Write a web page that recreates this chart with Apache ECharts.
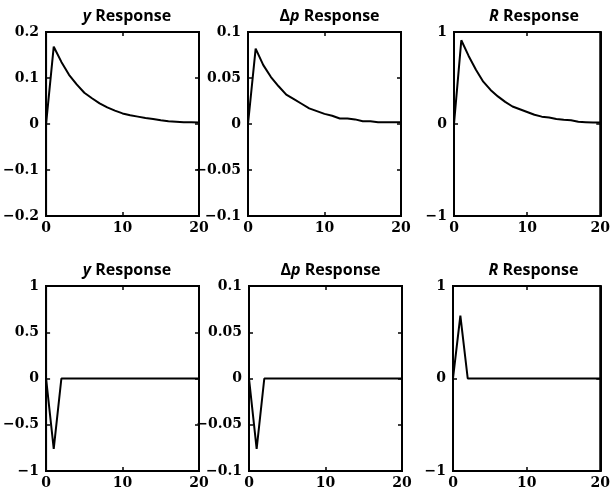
<!DOCTYPE html>
<html><head><meta charset="utf-8">
<script src="https://cdn.jsdelivr.net/npm/echarts@6/dist/echarts.min.js"></script>
<style>html,body{margin:0;padding:0;background:#fff}#c{width:613px;height:498px}</style>
</head><body><div id="c"></div>
<script>
const periods = [0,1,2,3,4,5,6,7,8,9,10,11,12,13,14,15,16,17,18,19,20];
const titles = ['{i|y} Response','{n|Δ}{i|p} Response','{i|R} Response','{i|y} Response','{n|Δ}{i|p} Response','{i|R} Response'];
const yResp1  = [0,0.168,0.135,0.107,0.086,0.068,0.056,0.045,0.036,0.029,0.023,0.019,0.016,0.013,0.011,0.008,0.006,0.005,0.004,0.004,0.003];
const dpResp1 = [0,0.082,0.064,0.051,0.041,0.032,0.027,0.022,0.017,0.014,0.011,0.009,0.006,0.006,0.005,0.003,0.003,0.002,0.002,0.002,0.002];
const rResp1  = [0,0.91,0.74,0.59,0.46,0.37,0.30,0.24,0.19,0.16,0.13,0.10,0.08,0.07,0.055,0.045,0.04,0.025,0.02,0.015,0.015];
const yResp2  = [0,-0.76,0,0,0,0,0,0,0,0,0,0,0,0,0,0,0,0,0,0,0];
const dpResp2 = [0,-0.076,0,0,0,0,0,0,0,0,0,0,0,0,0,0,0,0,0,0,0];
const rResp2  = [0,0.68,0,0,0,0,0,0,0,0,0,0,0,0,0,0,0,0,0,0,0];
const yLimits = [[-0.2,0.2,0.1],[-0.1,0.1,0.05],[-1,1,1],[-1,1,0.5],[-0.1,0.1,0.05],[-1,1,1]];
const xTicks = [0,10,20];
const seriesData = [yResp1,dpResp1,rResp1,yResp2,dpResp2,rResp2];

const gridPos = [
  {left:45,width:154,top:32,height:184},
  {left:248,width:153,top:32,height:184},
  {left:454,width:150,top:32,height:184},
  {left:45,width:154,top:286,height:185},
  {left:249,width:153,top:286,height:185},
  {left:453,width:151,top:286,height:185}
];
const lblFont = {fontFamily:'DejaVu Serif',fontWeight:'bold',fontSize:14,color:'#000'};
const fmt = v => { let s = String(+v.toFixed(3)); return s.replace('-','\u2212'); };
const option = {animation:false,backgroundColor:'#fff',grid:[],xAxis:[],yAxis:[],series:[],title:[]};
gridPos.forEach((g,i)=>{
  option.grid.push(Object.assign({show:true,borderColor:'#000',borderWidth:2,backgroundColor:'transparent'},g));
  const tick = {show:true,inside:true,length:4,lineStyle:{color:'#000',width:1.5}};
  const line = {show:true,onZero:false,lineStyle:{color:'#000',width:2}};
  option.xAxis.push({type:'value',gridIndex:i,min:xTicks[0],max:xTicks[2],interval:xTicks[1]-xTicks[0],
    axisLine:line,axisTick:tick,splitLine:{show:false},
    axisLabel:Object.assign({margin:5,formatter:fmt},lblFont)});
  option.xAxis.push({type:'value',gridIndex:i,position:'top',min:xTicks[0],max:xTicks[2],interval:xTicks[1]-xTicks[0],
    axisLine:line,axisTick:tick,splitLine:{show:false},axisLabel:{show:false}});
  const [mn,mx,iv] = yLimits[i];
  option.yAxis.push({type:'value',gridIndex:i,min:mn,max:mx,interval:iv,
    axisLine:line,axisTick:tick,splitLine:{show:false},
    axisLabel:Object.assign({margin:7,formatter:fmt},lblFont)});
  option.yAxis.push({type:'value',gridIndex:i,position:'right',min:mn,max:mx,interval:iv,
    axisLine:line,axisTick:tick,splitLine:{show:false},axisLabel:{show:false}});
  option.series.push({type:'line',xAxisIndex:2*i,yAxisIndex:2*i,symbol:'none',
    lineStyle:{color:'#000',width:2},data:periods.map((p,k)=>[p,seriesData[i][k]])});
  option.title.push({text:titles[i],left:g.left+g.width/2,textAlign:'center',top:g.top-29,
    textStyle:{fontFamily:'Open Sans',fontWeight:'bold',fontSize:16,color:'#000',
      rich:{i:{fontFamily:'Open Sans',fontStyle:'italic',fontWeight:'bold',fontSize:16,color:'#000'},
            n:{fontFamily:'Open Sans',fontWeight:'bold',fontSize:16,color:'#000'}}}});
});
const chart = echarts.init(document.getElementById('c'),null,{renderer:'canvas'});
chart.setOption(option);
</script></body></html>
